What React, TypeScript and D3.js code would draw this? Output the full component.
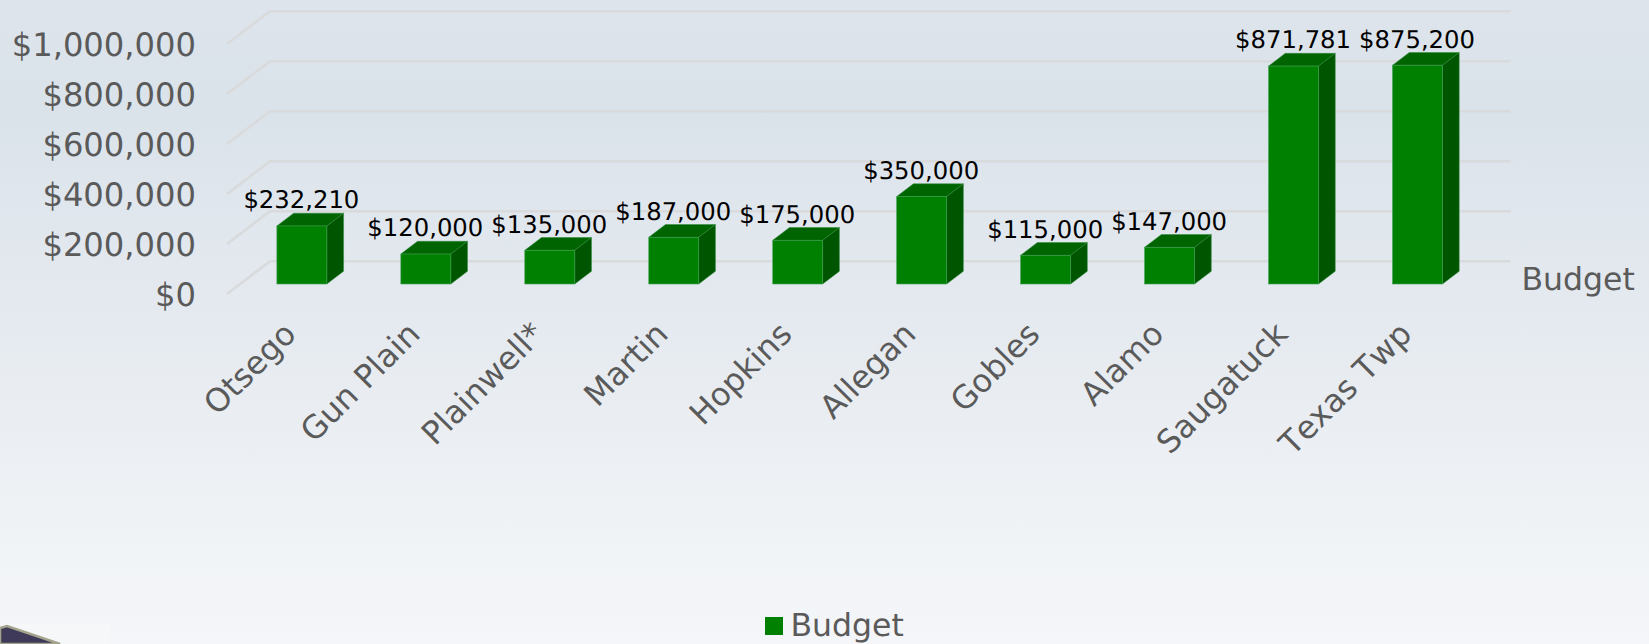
import React from "react";
import * as d3 from "d3";

const categories = ["Otsego", "Gun Plain", "Plainwell*", "Martin", "Hopkins", "Allegan", "Gobles", "Alamo", "Saugatuck", "Texas Twp"];
const budget = [232210, 120000, 135000, 187000, 175000, 350000, 115000, 147000, 871781, 875200];
const ticks = [0, 200000, 400000, 600000, 800000, 1000000];
const seriesName = "Budget";

const W = 1649, H = 644;
const FONT = "'DejaVu Sans', Verdana, sans-serif";
const money = d3.format("$,.0f");

export default function App() {
  // front plane of the bars
  const x = d3.scaleBand<string>().domain(categories).range([239.7, 1479.7]).paddingInner(0.597).paddingOuter(0.3);
  const y = d3.scaleLinear().domain([0, 1000000]).range([284, 34]);
  const frontAxisDy = 10; // floor front edge relative to bar front
  const barDx = 16.7, barDy = 12.7; // bar depth
  const wallDy = -22.7; // back wall relative to bar front
  const bw = x.bandwidth();
  const textStyle: React.CSSProperties = { fontKerning: "none", textRendering: "geometricPrecision" };

  return (
    <svg width={W} height={H} viewBox={`0 0 ${W} ${H}`} style={{ position: "absolute", left: 0, top: 0, display: "block" }}>
      <defs>
        <linearGradient id="bg" x1="0" y1="0" x2="0" y2="1">
          <stop offset="0" stopColor="#dde4eb" />
          <stop offset="0.18" stopColor="#dbe3ea" />
          <stop offset="0.5" stopColor="#e5eaf0" />
          <stop offset="0.8" stopColor="#eff2f5" />
          <stop offset="1" stopColor="#f4f6f9" />
        </linearGradient>
      </defs>
      <rect x={0} y={0} width={W} height={H} fill="url(#bg)" />

      {/* corner of the photo behind the chart */}
      <rect x={0} y={624} width={110} height={20} fill="#f5f7f9" />
      <path d="M0,628 L7,626 L60,644 L0,644 Z" fill="#3f3a5a" stroke="#a3a28c" strokeWidth={2.5} />

      {/* gridlines */}
      {ticks.map((t) => {
        const y0 = y(t);
        return (
          <polyline
            key={t}
            points={`${227},${y0 + frontAxisDy} ${270},${y0 + wallDy} ${1510.5},${y0 + wallDy}`}
            fill="none"
            stroke="#d9dadc"
            strokeWidth={2.6}
          />
        );
      })}

      {/* y axis labels */}
      {ticks.map((t) => (
        <text key={t} x={196} y={y(t) + 22} textAnchor="end" fontFamily={FONT} fontSize={32.2} fill="#5a5a5a" style={textStyle}>
          {money(t)}
        </text>
      ))}

      {/* bars */}
      {categories.map((c, i) => {
        const x0 = x(c)!;
        const x1 = x0 + bw;
        const yT = y(budget[i]);
        const yB = y(0);
        return (
          <g key={c}>
            <path d={`M${x0},${yT} L${x0 + barDx},${yT - barDy} L${x1 + barDx},${yT - barDy} L${x1},${yT} Z`} fill="#006400" stroke="#2f8a3c" strokeWidth={0.5} />
            <path d={`M${x1},${yT} L${x1 + barDx},${yT - barDy} L${x1 + barDx},${yB - barDy} L${x1},${yB} Z`} fill="#005600" stroke="#2f8a3c" strokeWidth={0.5} />
            <rect x={x0} y={yT} width={bw} height={yB - yT} fill="#008000" stroke="#3f9f50" strokeWidth={0.6} />
            <text x={x0 + bw / 2 - 0.5} y={yT - barDy - 5} textAnchor="middle" fontFamily={FONT} fontSize={24.3} fill="#000000" style={textStyle}>
              {money(budget[i])}
            </text>
          </g>
        );
      })}

      {/* category labels */}
      {categories.map((c) => {
        const cx = x(c)! + bw / 2 - 4;
        const cy = 336;
        return (
          <text key={c} transform={`translate(${cx},${cy}) rotate(-45)`} textAnchor="end" fontFamily={FONT} fontSize={32} fill="#5a5a5a" style={textStyle}>
            {c}
          </text>
        );
      })}

      {/* z axis label */}
      <text x={1521.5} y={290} fontFamily={FONT} fontSize={31.5} fill="#5a5a5a" style={textStyle}>{seriesName}</text>

      {/* legend */}
      <rect x={765} y={617} width={18} height={18} fill="#008000" />
      <text x={790.5} y={636} fontFamily={FONT} fontSize={31.5} fill="#5a5a5a" style={textStyle}>{seriesName}</text>
    </svg>
  );
}
